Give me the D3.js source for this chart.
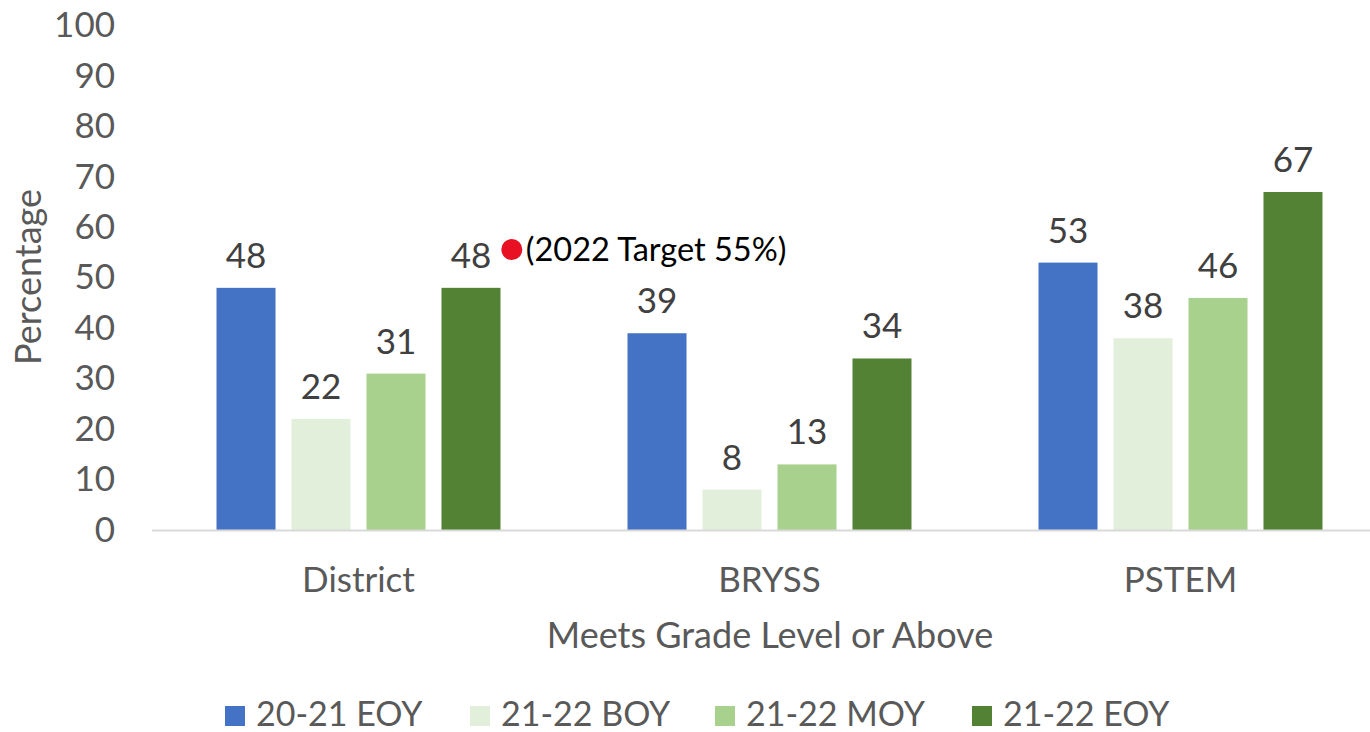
<!DOCTYPE html>
<html>
<head>
<meta charset="utf-8">
<script src="https://cdn.jsdelivr.net/npm/d3@7"></script>
<style>
  body { margin: 0; background: #fff; }
  svg { display: block; font-family: Lato, "Open Sans", sans-serif; }
</style>
</head>
<body>
<svg id="chart"></svg>
<script>
// Data
const categories = ["District", "BRYSS", "PSTEM"];
const seriesNames = ["20-21 EOY", "21-22 BOY", "21-22 MOY", "21-22 EOY"];
const seriesColors = ["#4472C4", "#E2EFDA", "#A9D18E", "#548235"];
const eoy2021 = [48, 39, 53];
const boy2122 = [22, 8, 38];
const moy2122 = [31, 13, 46];
const eoy2122 = [48, 34, 67];
const yTicks = [0, 10, 20, 30, 40, 50, 60, 70, 80, 90, 100];
const target = { label: "(2022 Target 55%)", value: 55 };

const seriesValues = [eoy2021, boy2122, moy2122, eoy2122];

const width = 1370, height = 732;
const fs = 35;
const svg = d3.select("#chart").attr("width", width).attr("height", height);

// Scales
const x0 = d3.scaleBand().domain(categories).range([153, 1386]);
const x1 = d3.scaleBand().domain(seriesNames).range([0, 284]).paddingInner(0.213);
const groupOffset = (x0.bandwidth() - 284) / 2;
const y = d3.scaleLinear().domain([0, 100]).range([530, 25.5]);

// Y axis labels (no line)
const yAxis = d3.axisLeft(y).tickValues(yTicks).tickSize(0).tickPadding(0);
svg.append("g")
  .attr("transform", "translate(115,0)")
  .call(yAxis)
  .call(g => g.select(".domain").remove())
  .selectAll("text")
  .attr("font-family", "Lato, sans-serif")
  .attr("font-size", fs)
  .attr("fill", "#595959");

// Bars
const rows = [];
categories.forEach((c, i) => {
  seriesNames.forEach((s, j) => {
    rows.push({ cat: c, series: s, value: seriesValues[j][i], color: seriesColors[j] });
  });
});

svg.append("g").selectAll("rect")
  .data(rows)
  .join("rect")
  .attr("x", d => x0(d.cat) + groupOffset + x1(d.series))
  .attr("y", d => y(d.value))
  .attr("width", x1.bandwidth())
  .attr("height", d => y(0) - y(d.value))
  .attr("fill", d => d.color);

// Data labels
svg.append("g").selectAll("text")
  .data(rows)
  .join("text")
  .attr("x", d => x0(d.cat) + groupOffset + x1(d.series) + x1.bandwidth() / 2)
  .attr("y", d => y(d.value) - 20)
  .attr("text-anchor", "middle")
  .attr("font-size", fs)
  .attr("fill", "#404040")
  .text(d => d.value);

// Baseline
svg.append("line")
  .attr("x1", 152).attr("x2", 1370)
  .attr("y1", y(0) + 0.5).attr("y2", y(0) + 0.5)
  .attr("stroke", "#D9D9D9")
  .attr("stroke-width", 2);

// Category labels
svg.append("g").selectAll("text")
  .data(categories)
  .join("text")
  .attr("x", d => x0(d) + x0.bandwidth() / 2)
  .attr("y", 592)
  .attr("text-anchor", "middle")
  .attr("font-size", fs)
  .attr("fill", "#595959")
  .text(d => d);

// Axis titles
svg.append("text")
  .attr("x", 770).attr("y", 648)
  .attr("text-anchor", "middle")
  .attr("font-size", fs + 1)
  .attr("fill", "#595959")
  .text("Meets Grade Level or Above");

svg.append("text")
  .attr("transform", "translate(28,277) rotate(-90)")
  .attr("dy", "0.35em")
  .attr("text-anchor", "middle")
  .attr("font-size", fs + 1)
  .attr("fill", "#595959")
  .text("Percentage");

// Target marker
const tx = x0("District") + x0.bandwidth() * 0.873;
svg.append("circle")
  .attr("cx", tx).attr("cy", y(target.value) - 3)
  .attr("r", 10.5)
  .attr("fill", "#E81123");
svg.append("text")
  .attr("x", tx + 14).attr("y", y(target.value) + 8)
  .attr("font-size", 32.5)
  .attr("fill", "#000")
  .text(target.label);

// Legend
const legendX = [225, 470, 715, 972];
const legend = svg.append("g").selectAll("g")
  .data(seriesNames)
  .join("g")
  .attr("transform", (d, i) => `translate(${legendX[i]},706)`);
legend.append("rect")
  .attr("width", 20).attr("height", 20)
  .attr("fill", (d, i) => seriesColors[i]);
legend.append("text")
  .attr("x", 31).attr("y", 20)
  .attr("font-size", fs - 1)
  .attr("fill", "#595959")
  .text(d => d);
</script>
</body>
</html>
